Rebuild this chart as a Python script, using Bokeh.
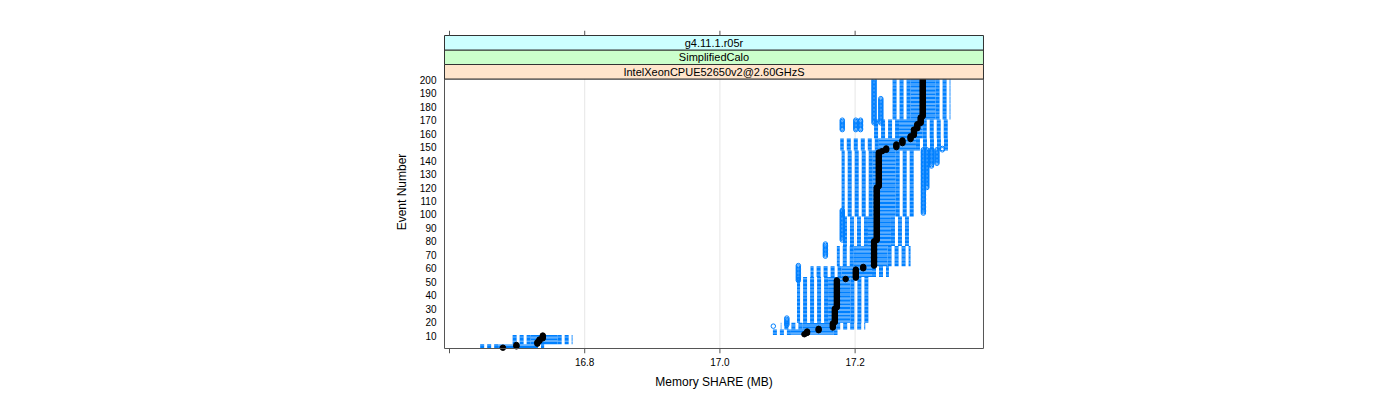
import numpy as np
from bokeh.plotting import figure
from bokeh.models import FixedTicker, Range1d, PrintfTickFormatter
from bokeh.core.properties import value
from bokeh.embed import file_html
from bokeh.resources import INLINE

# ---------------- data ----------------
# box-plot statistics per group of consecutive events
seg_first = [1, 4, 11, 15, 20, 54, 62, 77, 99, 148, 157, 171]
seg_last = [3, 10, 14, 19, 53, 61, 76, 98, 147, 156, 170, 200]
seg_wlo = [16.643, 16.690, 17.075, 17.090, 17.114, 17.134, 17.173, 17.178, 17.180, 17.178, 17.227, 17.252]
seg_q1 = [16.672, 16.720, 17.105, 17.122, 17.160, 17.180, 17.198, 17.219, 17.226, 17.235, 17.265, 17.282]
seg_q3 = [16.725, 16.760, 17.168, 17.172, 17.193, 17.225, 17.248, 17.253, 17.260, 17.290, 17.300, 17.319]
seg_whi = [16.740, 16.782, 17.178, 17.215, 17.223, 17.250, 17.282, 17.282, 17.290, 17.341, 17.341, 17.341]

# medians (black dots): events first..last share the value
med_first = [1, 2, 4, 6, 8, 11, 12, 14, 16, 20, 31, 52, 53, 60, 62, 81, 121, 147, 148, 150, 153, 156, 159, 164, 168, 173]
med_last = [1, 3, 5, 7, 10, 11, 13, 15, 19, 30, 51, 52, 59, 61, 80, 120, 146, 147, 149, 152, 155, 158, 163, 167, 172, 200]
med_value = [16.679, 16.699, 16.730, 16.733, 16.738, 17.125, 17.129, 17.146, 17.167, 17.170, 17.173, 17.186,
             17.201, 17.212, 17.228, 17.232, 17.235, 17.240, 17.246, 17.261, 17.270, 17.282, 17.287, 17.292,
             17.297, 17.300]

# outliers (open circles): value present for events first..last
out_value = [17.079, 17.099, 17.116, 17.156, 17.181, 17.301, 17.306, 17.313, 17.321, 17.329,
             17.181, 17.201, 17.208, 17.228, 17.238]
out_first = [17, 18, 51, 69, 81, 101, 120, 136, 138, 148, 163, 163, 163, 168, 168]
out_last = [17, 23, 62, 78, 103, 148, 148, 148, 148, 149, 170, 170, 170, 200, 186]

x_ticks = [16.6, 16.8, 17.0, 17.2]
x_labelled = [16.8, 17.0, 17.2]
y_ticks = [10, 20, 30, 40, 50, 60, 70, 80, 90, 100, 110, 120, 130, 140, 150, 160, 170, 180, 190, 200]
strip_labels = ["IntelXeonCPUE52650v2@2.60GHzS", "SimplifiedCalo", "g4.11.1.r05r"]
strip_colors = ["#ffe5cc", "#ccffcc", "#ccffff"]
x_title = "Memory SHARE (MB)"
y_title = "Event Number"


def expand(first, last, *cols):
    ev = []
    out = [[] for _ in cols]
    for i, (f, l) in enumerate(zip(first, last)):
        for e in range(f, l + 1):
            ev.append(e)
            for k, c in enumerate(cols):
                out[k].append(c[i])
    return ev, out


ev, (wlo, q1, q3, whi) = expand(seg_first, seg_last, seg_wlo, seg_q1, seg_q3, seg_whi)
mev, (mval,) = expand(med_first, med_last, med_value)
oev, (oval,) = expand(out_first, out_last, out_value)

# ---------------- layout ----------------
X0, X1 = 16.5926, 17.3899          # panel x limits
Y0, PANEL_TOP = 0.4, 200.6          # panel y limits
panel_px = 269.5
px_x = 676.0                        # pixels per MB
upp = (PANEL_TOP - Y0) / panel_px   # y units per pixel
strip_h = 14.5 * upp
STRIP_TOP = PANEL_TOP + 3 * strip_h
TICK = 5 * upp
PAD = 2 / px_x
FX0, FX1 = X0 - PAD, X1 + PAD       # frame x limits
FY0, FY1 = Y0 - TICK, STRIP_TOP + TICK

BLUE = "#0080ff"
FONT = "Liberation Sans"
AXC = "#555555"

p = figure(width=1384, height=392, output_backend="svg", toolbar_location=None,
           x_range=Range1d(FX0, FX1), y_range=Range1d(FY0, FY1),
           min_border_left=442, min_border_right=1384 - 442 - 543,
           min_border_top=30, min_border_bottom=392 - 353)
p.outline_line_color = None
p.background_fill_color = "white"
p.border_fill_color = "white"
p.xgrid.visible = False
p.ygrid.visible = False

# bottom axis: labels only (ticks drawn as marks below)
xa = p.xaxis[0]
xa.ticker = FixedTicker(ticks=x_labelled)
xa.formatter = PrintfTickFormatter(format="%.1f")
xa.axis_line_color = None
xa.major_tick_line_color = None
xa.minor_tick_line_color = None
xa.major_tick_out = 0
xa.major_tick_in = 0
xa.major_label_standoff = 4
xa.major_label_text_font = FONT
xa.major_label_text_font_size = "10px"
xa.major_label_text_color = "black"
xa.axis_label = x_title
xa.axis_label_text_font = FONT
xa.axis_label_text_font_size = "12px"
xa.axis_label_text_font_style = "normal"
xa.axis_label_text_color = "black"
xa.axis_label_standoff = 6

# left axis
ya = p.yaxis[0]
ya.ticker = FixedTicker(ticks=y_ticks)
ya.axis_line_color = None
ya.major_tick_out = 0
ya.major_tick_in = 0
ya.minor_tick_line_color = None
ya.major_tick_line_color = None
ya.major_label_standoff = 6
ya.major_label_text_font = FONT
ya.major_label_text_font_size = "10px"
ya.major_label_text_color = "black"
ya.axis_label = y_title
ya.axis_label_text_font = FONT
ya.axis_label_text_font_size = "12px"
ya.axis_label_text_font_style = "normal"
ya.axis_label_text_color = "black"
ya.axis_label_standoff = 8

# vertical grid lines inside the panel
p.segment(x0=x_labelled, x1=x_labelled, y0=[Y0] * 3, y1=[PANEL_TOP] * 3, line_color="#e6e6e6", line_width=1)

# whiskers (dashed)
p.segment(x0=q1, x1=wlo, y0=ev, y1=ev, line_color=BLUE, line_width=1.3, line_dash="4 3")
p.segment(x0=q3, x1=whi, y0=ev, y1=ev, line_color=BLUE, line_width=1.3, line_dash="4 3")
# outliers
p.scatter(x=oval, y=oev, marker="circle", size=4.5, fill_color=None, line_color=BLUE, line_width=1)
# boxes
p.hbar(y=ev, left=q1, right=q3, height=0.85, fill_color=BLUE, line_color=None)
# medians
p.scatter(x=mval, y=mev, marker="circle", size=5.5, fill_color="black", line_color="black")

# panel border
p.quad(left=[X0], right=[X1], bottom=[Y0], top=[PANEL_TOP], fill_color=None, line_color=AXC, line_width=1)

# strips
sb = [PANEL_TOP + i * strip_h for i in range(3)]
st = [PANEL_TOP + (i + 1) * strip_h for i in range(3)]
p.quad(left=[X0] * 3, right=[X1] * 3, bottom=sb, top=st, fill_color=strip_colors,
       line_color="#333333", line_width=1)
p.text(x=[(X0 + X1) / 2] * 3, y=[(b + t) / 2 for b, t in zip(sb, st)], text=strip_labels,
       text_align="center", text_baseline="middle", text_font=value(FONT),
       text_font_size="11px", text_color="black")

# tick marks below the panel and above the strips
n = len(x_ticks)
p.segment(x0=x_ticks, x1=x_ticks, y0=[Y0] * n, y1=[FY0] * n, line_color=AXC, line_width=1)
p.segment(x0=x_ticks, x1=x_ticks, y0=[STRIP_TOP] * n, y1=[FY1] * n, line_color=AXC, line_width=1)

open("out.html", "w").write(file_html(p, INLINE))
